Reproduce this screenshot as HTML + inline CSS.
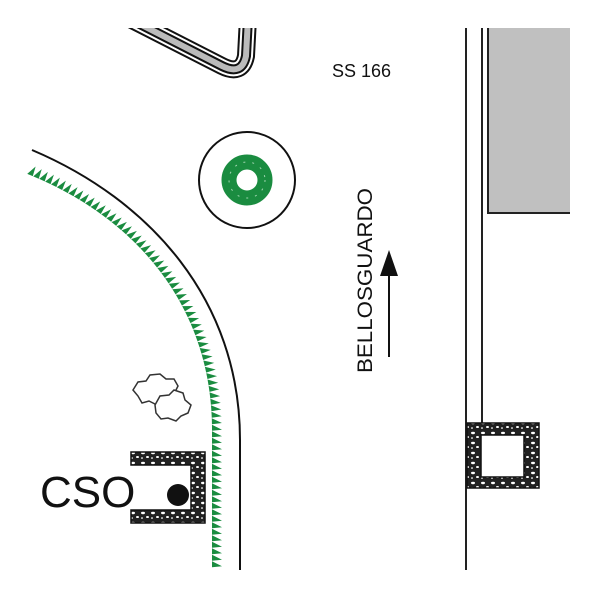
<!DOCTYPE html>
<html><head><style>body{margin:0;background:#fff}svg{display:block}</style></head>
<body>
<svg id="s" width="600" height="600" viewBox="0 0 600 600" xmlns="http://www.w3.org/2000/svg">
<defs>
<pattern id="gr" width="10" height="10" patternUnits="userSpaceOnUse">
<rect width="10" height="10" fill="#222"/>
<ellipse cx="3" cy="3" rx="2" ry="1.2" fill="#fff"/>
<ellipse cx="7.5" cy="7" rx="1.5" ry="1" fill="#fff"/>
<ellipse cx="2" cy="8" rx="1" ry="0.8" fill="#fff"/>
</pattern>
<clipPath id="cp"><rect x="0" y="28" width="600" height="100"/></clipPath>
</defs>
<!-- top road -->
<g clip-path="url(#cp)" fill="none">
<path d="M128,18 L222,66 Q242,76 246,56 L248,18" stroke="#111" stroke-width="18"/>
<path d="M128,18 L222,66 Q242,76 246,56 L248,18" stroke="#fff" stroke-width="14"/>
<path d="M128,18 L222,66 Q242,76 246,56 L248,18" stroke="#111" stroke-width="10"/>
<path d="M128,18 L222,66 Q242,76 246,56 L248,18" stroke="#bbb" stroke-width="6"/>
</g>
<!-- curve -->
<path d="M32,150 C150,200 240,300 240,440 L240,570" fill="none" stroke="#111" stroke-width="2"/>
<path id="gp" d="M30,175 C140,220 212,310 212,430 L212,568" fill="none" stroke="none"/>
<g id="teeth" fill="#1a8c40"></g>
<!-- tree -->
<circle cx="247" cy="180" r="48" fill="none" stroke="#111" stroke-width="2"/>
<circle cx="247" cy="180" r="18" fill="none" stroke="#1a8c40" stroke-width="15"/>
<circle cx="247" cy="180" r="18" fill="none" stroke="#9fd4af" stroke-width="1" stroke-dasharray="2 7"/>
<!-- bushes -->
<path d="M133,390 l5,-8 l8,-1 l4,-6 l10,-1 l6,5 l8,0 l4,7 l-3,6 l3,5 l-6,5 l-9,-1 l-6,4 l-8,-4 l-7,2 l-4,-7 z" fill="#fff" stroke="#333" stroke-width="1.5"/>
<path d="M155,405 l5,-9 l9,-1 l5,-5 l9,3 l2,7 l6,5 l-3,8 l-7,3 l-5,5 l-8,-3 l-7,1 l-5,-6 z" fill="#fff" stroke="#333" stroke-width="1.5"/>
<!-- U shape -->
<path d="M131,452 H205 V523 H131 V510 H191 V465 H131 Z" fill="url(#gr)" stroke="#111" stroke-width="1.5"/>
<circle cx="178" cy="495" r="11" fill="#111"/>
<text x="40" y="507" font-family="Liberation Sans, sans-serif" font-size="44" fill="#111">CSO</text>
<!-- labels -->
<text x="332" y="77" font-family="Liberation Sans, sans-serif" font-size="18" fill="#111">SS 166</text>
<text transform="translate(372,373) rotate(-90)" font-family="Liberation Sans, sans-serif" font-size="21" fill="#111" textLength="185" lengthAdjust="spacingAndGlyphs">BELLOSGUARDO</text>
<line x1="389" y1="357" x2="389" y2="272" stroke="#111" stroke-width="2"/>
<path d="M389,250 L398,276 L380,276 Z" fill="#111"/>
<!-- right side -->
<rect x="488" y="28" width="82" height="185" fill="#c0c0c0"/>
<path d="M488,28 V213 H570" fill="none" stroke="#222" stroke-width="2"/>
<line x1="466" y1="28" x2="466" y2="570" stroke="#222" stroke-width="2"/>
<line x1="482" y1="28" x2="482" y2="424" stroke="#222" stroke-width="2"/>
<path d="M467,423 H539 V488 H467 Z M481,435 V477 H524 V435 Z" fill="url(#gr)" fill-rule="evenodd" stroke="#111" stroke-width="1.5"/>
</svg>
<script>
var p=document.getElementById('gp'),g=document.getElementById('teeth'),L=p.getTotalLength(),s='';
for(var d=0;d<L;d+=6.5){var a=p.getPointAtLength(d),b=p.getPointAtLength(Math.min(L,d+0.5));
var tx=b.x-a.x,ty=b.y-a.y,m=Math.hypot(tx,ty)||1;tx/=m;ty/=m;var nx=-ty,ny=tx;
if(nx<0){nx=-nx;ny=-ny;}
var c=a.x+nx*10,e=a.y+ny*10;
s+='<path d="M'+(a.x-tx*3)+','+(a.y-ty*3)+' L'+(a.x+tx*3)+','+(a.y+ty*3)+' L'+(c+tx*2)+','+(e+ty*2)+'Z"/>';}
g.innerHTML=s;
</script>
</body></html>
